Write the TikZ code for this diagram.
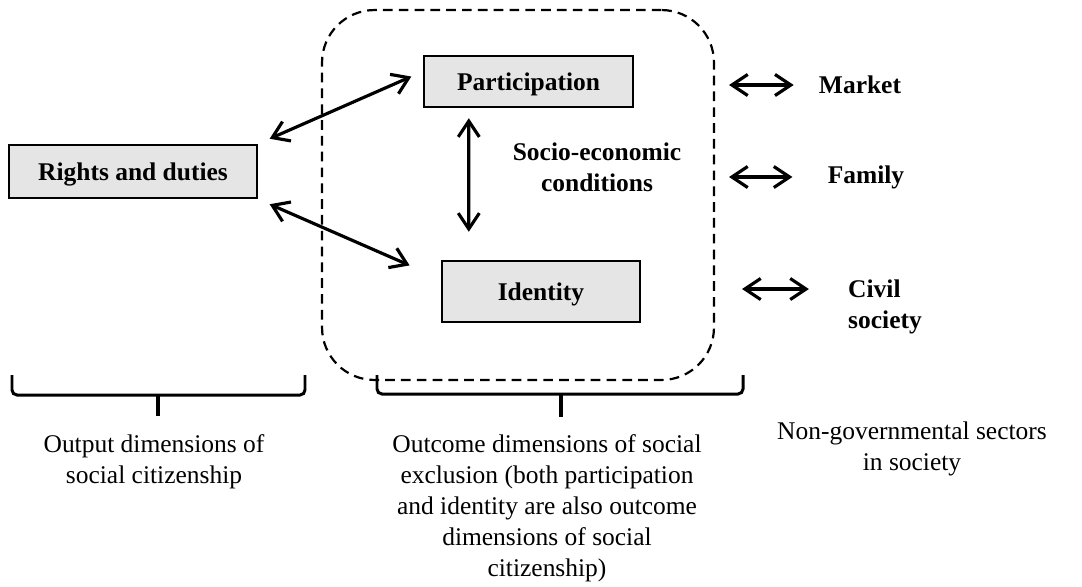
\documentclass[tikz,border=0pt]{standalone}
\usepackage{fontspec}
\setmainfont{Liberation Serif}
\usetikzlibrary{arrows.meta}
\definecolor{boxgray}{gray}{0.9}
\newcommand{\figfont}{\fontsize{14.5}{17.6}\selectfont}

\begin{document}
\begin{tikzpicture}[x=0.02cm,y=-0.02cm,
            >={Straight Barb[length=9pt,width=12pt]},
            dim/.style={draw,line width=1.4pt,fill=boxgray,font=\figfont\bfseries,inner sep=0pt,text depth=0pt},
            sector/.style={font=\figfont\bfseries,inner sep=0pt,align=left},
            note/.style={font=\figfont,inner sep=0pt,align=center},
            zonebox/.style={draw,line width=1.25pt,dash pattern=on 5.5pt off 3.5pt,rounded corners=1.05cm},
            dbl/.style={<->,line width=1.8pt},
            brc/.style={line width=1.7pt,rounded corners=0.1cm}]
            \useasboundingbox (0,0) rectangle (1082,586);

            % the dashed field round the two outcome dimensions
            \node[zonebox,minimum width=7.84cm,minimum height=7.4cm] (zone) at (518,195) {};

            % the three dimensions
            \node[dim,minimum width=4.96cm,minimum height=1.06cm] (rights) at (133,171.5) {Rights and duties};
            \node[dim,minimum width=4.18cm,minimum height=1.02cm] (part) at (528.5,81.5) {Participation};
            \node[dim,minimum width=3.96cm,minimum height=1.22cm] (ident) at (541,291.5) {Identity};
            \node[sector,align=center] (socio) at (597,167) {Socio-economic\\conditions};

            \draw[dbl,shorten <=0.25cm,shorten >=0.25cm] (rights.north east) -- ([yshift=0.2cm]part.west);
            \draw[dbl,shorten <=0.25cm,shorten >=0.68cm] (rights.south east) -- ([yshift=0.25cm]ident.west);
            \draw[dbl,shorten <=0.2cm,shorten >=0.56cm] ([xshift=0.92cm]part.south west) -- ([xshift=0.56cm]ident.north west);

            % non-governmental sectors
            \node[sector] (market) at (860,85) {Market};
            \node[sector] (family) at (866,177) {Family};
            \node[sector] (civil) at (885,307) {Civil\\society};
            \draw[dbl,shorten <=0.28cm,shorten >=0.5cm] (zone.east |- market.west) -- (market.west);
            \draw[dbl,shorten <=0.28cm,shorten >=0.7cm] (zone.east |- family.west) -- (family.west);
            \draw[dbl,shorten <=0.54cm,shorten >=0.78cm] ([yshift=0.36cm]zone.east |- civil.west) -- ([yshift=0.36cm]civil.west);

            % braces and what they stand for
            \draw[brc] (12,375) -- (12,395) -- (305,395) -- (305,375);
            \draw[line width=2pt] (158,395) -- (158,416);
            \draw[brc] (377,375) -- (377,394) -- (743,394) -- (743,375);
            \draw[line width=2pt] (561,394) -- (561,417);
            \node[note] (outnote) at (154,461.5) {Output dimensions of\\social citizenship};
            \node[note] (outcnote) at (547,508.5) {Outcome dimensions of social\\exclusion (both participation\\and identity are also outcome\\dimensions of social\\citizenship)};
            \node[note] (ngonote) at (912,449) {Non-governmental sectors\\in society};
        \end{tikzpicture}
\end{document}
